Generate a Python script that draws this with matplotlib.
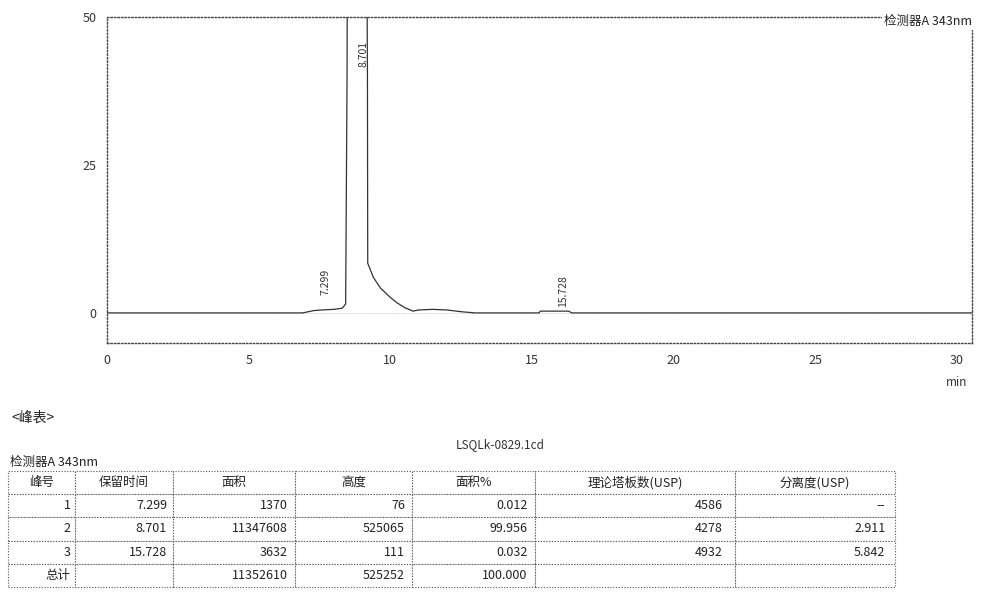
import matplotlib
matplotlib.use('Agg')
import matplotlib.pyplot as plt

plt.rcParams['font.family'] = ['Noto Sans CJK SC', 'DejaVu Sans']

# chromatogram trace (min, mV)
times = [0, 6.9, 7.1, 7.3, 7.6, 8.0, 8.3, 8.42, 8.47, 8.7, 9.19, 9.2, 9.4, 9.65, 10.0, 10.24, 10.5, 10.8,
         11.0, 11.5, 12.0, 12.5, 13.0, 15.25, 15.3, 16.3, 16.4, 20.0, 25.0, 30.7]
signal = [0, 0, 0.2, 0.4, 0.5, 0.6, 0.8, 1.5, 40, 525, 40, 8.4, 6.0, 4.2, 2.6, 1.7, 0.9, 0.3,
          0.5, 0.6, 0.5, 0.2, 0, 0, 0.3, 0.3, 0, 0, 0, 0]

peak_times = [7.299, 8.701, 15.728]
peak_labels = ['7.299', '8.701', '15.728']
label_x = [7.7, 9.05, 16.1]
label_y = [3.0, 41.5, 1.0]

x_ticks = [0, 5, 10, 15, 20, 25, 30]
y_ticks = [0, 25, 50]

# peak table
col_heads = ['峰号', '保留时间', '面积', '高度', '面积%', '理论塔板数(USP)', '分离度(USP)']
peak_no = ['1', '2', '3', '总计']
ret_time = ['7.299', '8.701', '15.728', '']
area = ['1370', '11347608', '3632', '11352610']
height = ['76', '525065', '111', '525252']
area_pct = ['0.012', '99.956', '0.032', '100.000']
plates = ['4586', '4278', '4932', '']
resolution = ['--', '2.911', '5.842', '']

fig = plt.figure(figsize=(9.84, 6.03), dpi=100)
ax = fig.add_axes([0.109, 0.431, 0.879, 0.541])
ax.plot(times, signal, color='#333333', lw=0.9)
ax.set_xlim(0, 30.55)
ax.set_ylim(-5.1, 50)
ax.set_xticks(x_ticks)
ax.set_yticks(y_ticks)
ax.tick_params(length=0, labelsize=9, pad=8, colors='#333333')
for s in ax.spines.values():
    s.set_linestyle((0, (1, 1.5)))
    s.set_color('#444444')
    s.set_linewidth(1)
ax.axhline(0, color='#bbbbbb', lw=0.6, ls=(0, (1, 1.5)), zorder=0)

for lx, ly, lab in zip(label_x, label_y, peak_labels):
    ax.text(lx, ly, lab, rotation=90, fontsize=7.5, ha='center', va='bottom', color='#333333')

ax.text(1.0, 0.985, '检测器A 343nm', transform=ax.transAxes, ha='right', va='center',
        fontsize=9, color='#222222', clip_on=False,
        bbox=dict(facecolor='white', edgecolor='none', pad=1.5))
ax.text(0.982, -0.12, 'min', transform=ax.transAxes, ha='center', va='center', fontsize=8.5,
        color='#333333')

fig.text(0.012, 0.308, '<峰表>', fontsize=10, va='center', color='#222222')
fig.text(0.508, 0.262, 'LSQLk-0829.1cd', fontsize=8.5, ha='center', va='center', color='#333333')
fig.text(0.010, 0.233, '检测器A 343nm', fontsize=9, va='center', color='#222222')

tax = fig.add_axes([0.008, 0.0265, 0.9015, 0.1925])
tax.axis('off')
rows = list(zip(peak_no, ret_time, area, height, area_pct, plates, resolution))
widths = [67, 98, 122, 117, 123, 200, 160]
tot = sum(widths)
tbl = tax.table(cellText=rows, colLabels=col_heads, cellLoc='right',
                colWidths=[w / tot for w in widths], bbox=[0, 0, 1, 1])
tbl.auto_set_font_size(False)
tbl.set_fontsize(9)
for (r, c), cell in tbl.get_celld().items():
    cell.set_linestyle((0, (1, 1.5)))
    cell.set_edgecolor('#555555')
    cell.set_linewidth(0.8)
    cell.get_text().set_color('#222222')
    if r == 0:
        cell.get_text().set_ha('center')
        cell._loc = 'center'
    cell.PAD = 0.06

fig.savefig('out.png', dpi=100)
